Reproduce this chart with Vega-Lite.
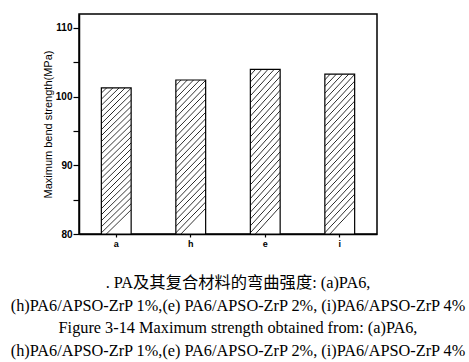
{
  "$schema": "https://vega.github.io/schema/vega-lite/v6.json",
  "autosize": {"type": "none"},
  "width": 298,
  "height": 220,
  "padding": {"left": 79, "top": 14, "right": 92, "bottom": 128},
  "background": "white",
  "config": {
    "view": {"stroke": "black", "strokeWidth": 1.5},
    "axis": {"grid": false, "domainColor": "black", "domainWidth": 1.5, "tickColor": "black", "tickWidth": 1.2, "labelColor": "black", "titleColor": "black", "labelFont": "Liberation Sans", "titleFont": "Liberation Sans"}
  },
  "title": {
    "text": [". PA及其复合材料的弯曲强度: (a)PA6,", "(h)PA6/APSO-ZrP 1%,(e) PA6/APSO-ZrP 2%, (i)PA6/APSO-ZrP 4%", "Figure 3-14 Maximum strength obtained from: (a)PA6,", "(h)PA6/APSO-ZrP 1%,(e) PA6/APSO-ZrP 2%, (i)PA6/APSO-ZrP 4%"],
    "orient": "bottom",
    "anchor": "middle",
    "frame": "group",
    "dx": 10,
    "offset": 27,
    "font": "Liberation Serif, Noto Sans CJK SC",
    "fontSize": 16.3,
    "fontWeight": "normal",
    "lineHeight": 22.7,
    "color": "black"
  },
  "data": {
    "values": [
      {"sample": "a", "strength": 101.25},
      {"sample": "h", "strength": 102.4},
      {"sample": "e", "strength": 103.95},
      {"sample": "i", "strength": 103.25}
    ]
  },
  "mark": {
    "type": "bar",
    "stroke": "black",
    "strokeWidth": 1.2,
    "fill": {
      "gradient": "linear",
      "x1": 0, "y1": 0, "x2": 0.2, "y2": 1,
      "stops": [
        {"offset": 0.000, "color": "white"}, {"offset": 0.028, "color": "white"}, {"offset": 0.034, "color": "#222"},
        {"offset": 0.040, "color": "white"}, {"offset": 0.068, "color": "white"}, {"offset": 0.074, "color": "#222"},
        {"offset": 0.080, "color": "white"}, {"offset": 0.108, "color": "white"}, {"offset": 0.114, "color": "#222"},
        {"offset": 0.120, "color": "white"}, {"offset": 0.148, "color": "white"}, {"offset": 0.154, "color": "#222"},
        {"offset": 0.160, "color": "white"}, {"offset": 0.188, "color": "white"}, {"offset": 0.194, "color": "#222"},
        {"offset": 0.200, "color": "white"}, {"offset": 0.228, "color": "white"}, {"offset": 0.234, "color": "#222"},
        {"offset": 0.240, "color": "white"}, {"offset": 0.268, "color": "white"}, {"offset": 0.274, "color": "#222"},
        {"offset": 0.280, "color": "white"}, {"offset": 0.308, "color": "white"}, {"offset": 0.314, "color": "#222"},
        {"offset": 0.320, "color": "white"}, {"offset": 0.348, "color": "white"}, {"offset": 0.354, "color": "#222"},
        {"offset": 0.360, "color": "white"}, {"offset": 0.388, "color": "white"}, {"offset": 0.394, "color": "#222"},
        {"offset": 0.400, "color": "white"}, {"offset": 0.428, "color": "white"}, {"offset": 0.434, "color": "#222"},
        {"offset": 0.440, "color": "white"}, {"offset": 0.468, "color": "white"}, {"offset": 0.474, "color": "#222"},
        {"offset": 0.480, "color": "white"}, {"offset": 0.508, "color": "white"}, {"offset": 0.514, "color": "#222"},
        {"offset": 0.520, "color": "white"}, {"offset": 0.548, "color": "white"}, {"offset": 0.554, "color": "#222"},
        {"offset": 0.560, "color": "white"}, {"offset": 0.588, "color": "white"}, {"offset": 0.594, "color": "#222"},
        {"offset": 0.600, "color": "white"}, {"offset": 0.628, "color": "white"}, {"offset": 0.634, "color": "#222"},
        {"offset": 0.640, "color": "white"}, {"offset": 0.668, "color": "white"}, {"offset": 0.674, "color": "#222"},
        {"offset": 0.680, "color": "white"}, {"offset": 0.708, "color": "white"}, {"offset": 0.714, "color": "#222"},
        {"offset": 0.720, "color": "white"}, {"offset": 0.748, "color": "white"}, {"offset": 0.754, "color": "#222"},
        {"offset": 0.760, "color": "white"}, {"offset": 0.788, "color": "white"}, {"offset": 0.794, "color": "#222"},
        {"offset": 0.800, "color": "white"}, {"offset": 0.828, "color": "white"}, {"offset": 0.834, "color": "#222"},
        {"offset": 0.840, "color": "white"}, {"offset": 0.868, "color": "white"}, {"offset": 0.874, "color": "#222"},
        {"offset": 0.880, "color": "white"}, {"offset": 0.908, "color": "white"}, {"offset": 0.914, "color": "#222"},
        {"offset": 0.920, "color": "white"}, {"offset": 0.948, "color": "white"}, {"offset": 0.954, "color": "#222"},
        {"offset": 0.960, "color": "white"}, {"offset": 0.988, "color": "white"}, {"offset": 0.994, "color": "#222"},
        {"offset": 1.000, "color": "white"}
      ]
    }
  },
  "encoding": {
    "x": {
      "field": "sample",
      "type": "nominal",
      "sort": null,
      "scale": {"paddingInner": 0.6, "paddingOuter": 0.3},
      "axis": {"title": null, "labelAngle": 0, "labelFontSize": 9, "labelFontWeight": "bold", "tickSize": 3, "labelPadding": 2}
    },
    "y": {
      "field": "strength",
      "type": "quantitative",
      "scale": {"domain": [80, 112], "nice": false, "zero": false},
      "axis": {
        "title": "Maximum bend strength(MPa)",
        "titleFontSize": 11,
        "titleFontWeight": "normal",
        "titlePadding": 2,
        "values": [80, 85, 90, 95, 100, 105, 110],
        "labelExpr": "datum.value % 10 == 0 ? datum.label : ''",
        "labelFontSize": 10,
        "labelFontWeight": "bold",
        "tickSize": 6,
        "labelPadding": 1
      }
    },
    "y2": {"datum": 80}
  }
}
